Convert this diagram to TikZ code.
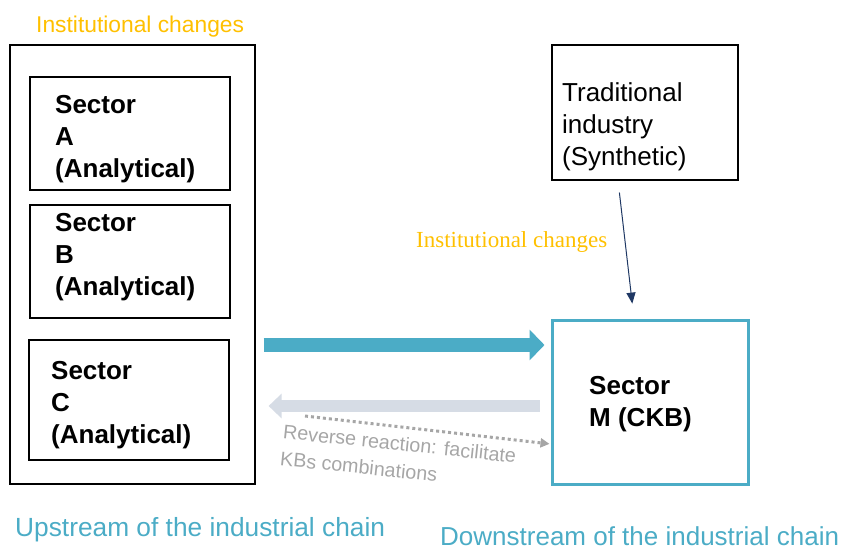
\documentclass[tikz,border=0pt]{standalone}
\usepackage{fontspec}
\setmainfont{Liberation Sans}
\newfontfamily\tnr{Liberation Serif}
\usetikzlibrary{arrows.meta}
\definecolor{orangeT}{HTML}{FFC000}
\definecolor{cyanT}{HTML}{4BACC6}
\definecolor{paleT}{HTML}{D6DCE5}
\definecolor{greyT}{HTML}{A6A6A6}
\definecolor{navyT}{HTML}{1F3864}
\tikzset{
  box/.style={draw=black, line width=1.2pt, inner sep=0pt},
  big/.style={font=\fontsize{26}{32}\selectfont, align=left, inner sep=0pt},
  bigb/.style={big, font=\fontsize{26}{32}\selectfont\bfseries},
  orangelabel/.style={text=orangeT, inner sep=0pt},
  chainlabel/.style={text=cyanT, inner sep=0pt},
  revtext/.style={text=greyT, font=\fontsize{19.7}{24}\selectfont, inner sep=0pt, rotate=-6, anchor=north west},
}
\begin{document}
\begin{tikzpicture}[x=1pt,y=-1pt]
\useasboundingbox (0,0) rectangle (842,552);
% left column
\node[orangelabel, font=\fontsize{22.8}{26}\selectfont, anchor=west] (ic1) at (36,27) {Institutional changes};
\node[box, minimum width=245pt, minimum height=439pt] (outer) at (132.5,264.5) {};
\node[box, minimum width=200pt, minimum height=113pt] (boxA) at (130,133.5) {};
\node[bigb, anchor=west] (tA) at (55,139) {Sector\\A\\(Analytical)};
\node[box, minimum width=200pt, minimum height=113pt] (boxB) at (130,261.5) {};
\node[bigb, anchor=west] (tB) at (55,257) {Sector\\B\\(Analytical)};
\node[box, minimum width=200pt, minimum height=120pt] (boxC) at (129,400) {};
\node[bigb, anchor=west] (tC) at (51,405) {Sector\\C\\(Analytical)};
% right column
\node[box, minimum width=186pt, minimum height=135pt] (trad) at (645,112.5) {};
\node[big, anchor=west] (tT) at (562,127) {Traditional\\industry\\(Synthetic)};
\node[orangelabel, font=\tnr\fontsize{23}{26}\selectfont, anchor=west] (ic2) at (416,242) {Institutional changes};
\node[draw=cyanT, line width=3pt, minimum width=196pt, minimum height=164pt, inner sep=0pt] (M) at (650,402) {};
\node[bigb, anchor=west] (tM) at (589,404) {Sector\\M (CKB)};
% connectors
\draw[navyT, line width=1pt, -{Triangle[length=11pt,width=9pt]}, shorten <=12pt, shorten >=15pt]
  ([xshift=-27pt]trad.south) -- ([xshift=-16pt]M.north);
\draw[cyanT, line width=14pt, -{Triangle[length=15pt,width=30pt]}, shorten <=8pt, shorten >=6pt]
  ([yshift=-80.5pt]outer.east) -- ([yshift=57pt]M.west);
\draw[paleT, line width=12pt, -{Triangle[length=13pt,width=24pt]}, shorten <=11pt, shorten >=13pt]
  ([yshift=-4pt]M.west) -- ([yshift=-141.5pt]outer.east);
\coordinate (dstart) at (305,416);
\draw[greyT, line width=3pt, dash pattern=on 3pt off 3pt, -{Triangle[length=9pt,width=9pt]}, shorten >=1pt]
  (dstart) -- ([yshift=-42pt]M.west);
\node[revtext] (rev1) at (284,424) {Reverse reaction: facilitate};
\node[revtext] (rev2) at (281,451) {KBs combinations};
% bottom labels
\node[chainlabel, font=\fontsize{26.3}{30}\selectfont, anchor=west] (up) at (15,530) {Upstream of the industrial chain};
\node[chainlabel, font=\fontsize{26}{30}\selectfont, anchor=west] (down) at (440,536) {Downstream of the industrial chain};
\end{tikzpicture}
\end{document}
